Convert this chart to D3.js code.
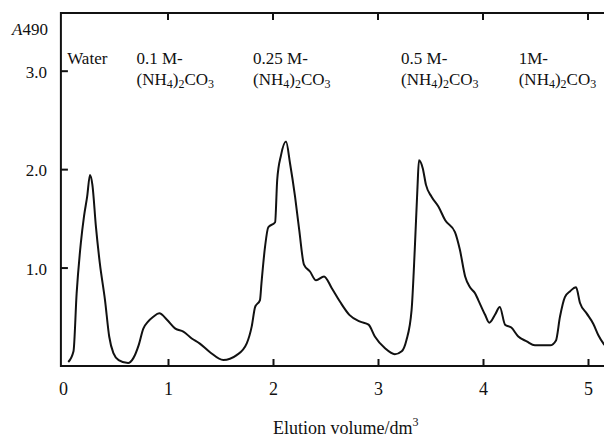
<!DOCTYPE html>
<html><head><meta charset="utf-8">
<script src="https://cdn.jsdelivr.net/npm/d3@7"></script>
<style>
html,body{margin:0;padding:0;background:#fff;}
svg{display:block;}
text{font-family:"Liberation Serif","Times New Roman",serif;fill:#111;}
</style></head>
<body><div id="chart"></div>
<script>
// Elution volume (dm^3)
const elution = [0.05,0.10,0.13,0.17,0.20,0.23,0.257,0.28,0.314,0.35,0.40,0.44,0.48,0.53,0.62,0.67,0.72,0.765,0.81,0.86,0.917,0.99,1.07,1.146,1.226,1.30,1.40,1.527,1.654,1.75,1.797,1.83,1.876,1.89,1.924,1.955,2.02,2.04,2.076,2.124,2.162,2.21,2.25,2.295,2.352,2.41,2.486,2.56,2.64,2.727,2.83,2.91,2.97,3.067,3.16,3.226,3.27,3.32,3.35,3.375,3.39,3.426,3.457,3.51,3.575,3.64,3.733,3.78,3.83,3.876,3.924,3.955,4.02,4.06,4.114,4.16,4.21,4.27,4.336,4.416,4.495,4.64,4.695,4.733,4.78,4.83,4.886,4.924,4.987,5.05,5.10,5.146,5.20];
// Absorbance A490
const absorbance = [0.04,0.15,0.74,1.25,1.52,1.72,1.94,1.84,1.41,1.05,0.67,0.30,0.13,0.06,0.03,0.08,0.21,0.38,0.45,0.50,0.535,0.47,0.38,0.35,0.28,0.23,0.14,0.06,0.11,0.23,0.40,0.60,0.67,0.84,1.21,1.41,1.46,1.89,2.14,2.28,2.06,1.72,1.38,1.03,0.96,0.87,0.91,0.79,0.65,0.52,0.45,0.42,0.30,0.18,0.12,0.15,0.26,0.57,1.18,1.79,2.09,2.01,1.84,1.72,1.62,1.48,1.36,1.18,0.91,0.80,0.74,0.67,0.52,0.44,0.52,0.60,0.42,0.39,0.30,0.25,0.21,0.21,0.26,0.50,0.70,0.76,0.80,0.64,0.535,0.43,0.31,0.23,0.17];
const xTickValues = [0,1,2,3,4,5];
const xTickLabels = ["0","1","2","3","4","5"];
const yTickValues = [1,2,3];
const yTickLabels = ["1.0","2.0","3.0"];
const eluentLine1 = ["Water","0.1 M-","0.25 M-","0.5 M-","1M-"];
const eluentStart = [0.04,0.7,1.81,3.22,4.34];
const eluentHasSalt = [false,true,true,true,true];

const W=604,H=437;
const svg=d3.select("#chart").append("svg").attr("width",W).attr("height",H);
const x=d3.scaleLinear().domain([0,5]).range([63,588]);
const y=d3.scaleLinear().domain([0,3]).range([366,70.7]);
const xLeft=x(-0.02), yTop=y(3.586), yBot=y(0);

// frame
const ax=svg.append("g").attr("stroke","#111").attr("stroke-width",2).attr("fill","none");
ax.append("line").attr("x1",xLeft).attr("x2",W+5).attr("y1",yBot).attr("y2",yBot);
ax.append("line").attr("x1",xLeft).attr("x2",W+5).attr("y1",yTop).attr("y2",yTop);
ax.append("line").attr("x1",xLeft).attr("x2",xLeft).attr("y1",yTop-1).attr("y2",yBot+1);

// bottom axis (ticks inward), top ticks
const bottom=d3.axisBottom(x).tickValues(xTickValues).tickSize(0).tickPadding(0)
  .tickFormat((d,i)=>xTickLabels[i]);
const gb=svg.append("g").attr("transform",`translate(0,${yBot})`).call(bottom);
gb.select(".domain").remove();
gb.selectAll("text").attr("font-size",18).attr("dy",null).attr("y",29).attr("fill","#111")
  .attr("font-family","Liberation Serif");
gb.selectAll(".tick").filter(d=>d>0).append("line").attr("y1",0).attr("y2",-7).attr("stroke","#111").attr("stroke-width",2);
svg.append("g").selectAll("line").data(xTickValues.filter(d=>d>0)).join("line")
  .attr("x1",d=>x(d)).attr("x2",d=>x(d)).attr("y1",yTop).attr("y2",yTop+7)
  .attr("stroke","#111").attr("stroke-width",2);

// left axis (ticks inward)
const left=d3.axisLeft(y).tickValues(yTickValues).tickSize(0).tickPadding(0)
  .tickFormat((d,i)=>yTickLabels[i]);
const gl=svg.append("g").attr("transform",`translate(${xLeft},0)`).call(left);
gl.select(".domain").remove();
gl.selectAll("text").attr("font-size",17).attr("x",-14).attr("dy","0.4em").attr("fill","#111")
  .attr("font-family","Liberation Serif");
gl.selectAll(".tick").append("line").attr("x1",0).attr("x2",7).attr("stroke","#111").attr("stroke-width",2);

// y label A490
const yl=svg.append("text").attr("x",12).attr("y",35).attr("font-size",17);
yl.append("tspan").attr("font-style","italic").text("A");
yl.append("tspan").text("490");

// curve
const pts=elution.map((v,i)=>[v,absorbance[i]]);
svg.append("path").datum(pts)
  .attr("d",d3.line().x(d=>x(d[0])).y(d=>y(d[1])).curve(d3.curveMonotoneX))
  .attr("fill","none").attr("stroke","#111").attr("stroke-width",2).attr("stroke-linejoin","round");

// eluent labels
eluentLine1.forEach((t,i)=>{
  const px=x(eluentStart[i]);
  svg.append("text").attr("x",px).attr("y",64).attr("font-size",17).text(t);
  if(eluentHasSalt[i]){
    const s=svg.append("text").attr("x",px).attr("y",85).attr("font-size",17);
    s.append("tspan").text("(NH");
    s.append("tspan").attr("font-size",12).attr("dy",3).text("4");
    s.append("tspan").attr("dy",-3).text(")");
    s.append("tspan").attr("font-size",12).attr("dy",3).text("2");
    s.append("tspan").attr("dy",-3).text("CO");
    s.append("tspan").attr("font-size",12).attr("dy",3).text("3");
  }
});

// x label
const xl=svg.append("text").attr("x",273).attr("y",434).attr("font-size",18);
xl.append("tspan").text("Elution volume/dm");
xl.append("tspan").attr("font-size",12).attr("dy",-8).text("3");
</script>
</body></html>
